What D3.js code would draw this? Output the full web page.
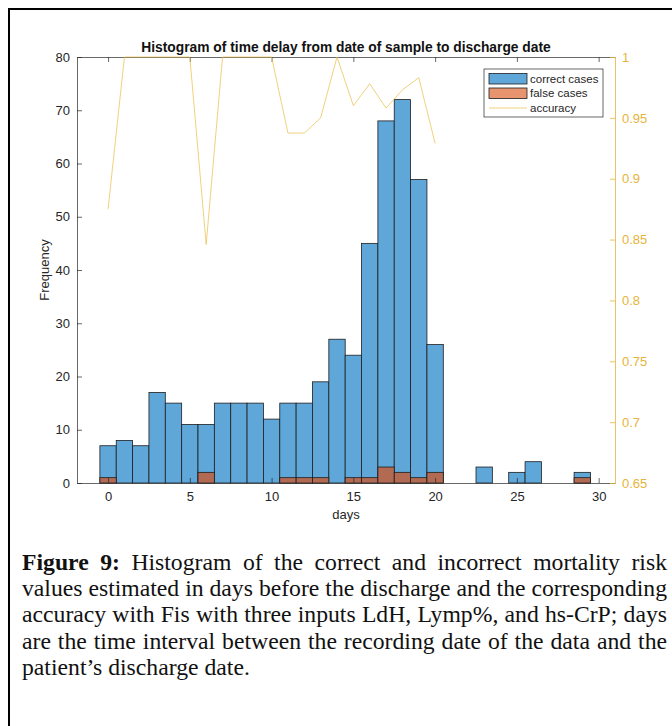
<!DOCTYPE html>
<html>
<head>
<meta charset="utf-8">
<script src="https://cdn.jsdelivr.net/npm/d3@7"></script>
<style>
  html, body { margin: 0; padding: 0; background: #fff; }
  svg { display: block; }
</style>
</head>
<body>
<svg id="chart" width="672" height="726"></svg>
<script>
// ---- data ----
const days = [0,1,2,3,4,5,6,7,8,9,10,11,12,13,14,15,16,17,18,19,20,23,25,26,29];
const correctCases = [7,8,7,17,15,11,11,15,15,15,12,15,15,19,27,24,45,68,72,57,26,3,2,4,2];
const falseCases   = [1,0,0,0,0,0,2,0,0,0,0,1,1,1,0,1,1,3,2,1,2,0,0,0,1];
const accuracyDays = [0,1,2,3,4,5,6,7,8,9,10,11,12,13,14,15,16,17,18,19,20];
const accuracy = [0.875,1,1,1,1,1,0.846,1,1,1,1,0.9375,0.9375,0.95,1,0.96,0.978,0.958,0.973,0.983,0.929];
const xTicks = [0,5,10,15,20,25,30];
const yTicks = [0,10,20,30,40,50,60,70,80];
const y2Ticks = [0.65,0.7,0.75,0.8,0.85,0.9,0.95,1];
const legendLabels = ["correct cases","false cases","accuracy"];
const titleText = "Histogram of time delay from date of sample to discharge date";
const xLabel = "days";
const yLabel = "Frequency";
const captionLines = [
  ["Figure","9:","Histogram","of","the","correct","and","incorrect","mortality","risk"],
  ["values","estimated","in","days","before","the","discharge","and","the","corresponding"],
  ["accuracy","with","Fis","with","three","inputs","LdH,","Lymp%,","and","hs-CrP;","days"],
  ["are","the","time","interval","between","the","recording","date","of","the","data","and","the"],
  ["patient\u2019s","discharge","date."]
];

// ---- layout ----
const svg = d3.select("#chart");
const L = 77, R = 615, T = 57, B = 483;
const axisCol = "#262626";
const yelCol = "#E5B53A";
const lineCol = "#E8BE45";
const blueFill = "#5fa6d9";
const redOverFill = "#b26b52";
const redLegendFill = "#e8946f";
const sans = "'Liberation Sans', Arial, Helvetica, sans-serif";

// outer frame
svg.append("rect").attr("x", 9).attr("y", 9).attr("width", 720).attr("height", 800)
  .attr("fill", "none").attr("stroke", "#000").attr("stroke-width", 2);

const x = d3.scaleLinear().domain([-1.9, 31]).range([L, R]);
const y = d3.scaleLinear().domain([0, 80]).range([B, T]);
const y2 = d3.scaleLinear().domain([0.65, 1]).range([B, T]);

// bars
const bars = days.map((d, i) => ({ d, c: correctCases[i], f: falseCases[i] }));
svg.append("g").selectAll("rect").data(bars).join("rect")
  .attr("x", b => x(b.d - 0.5)).attr("width", b => x(b.d + 0.5) - x(b.d - 0.5))
  .attr("y", b => y(b.c)).attr("height", b => y(0) - y(b.c))
  .attr("fill", blueFill).attr("stroke", "#1e1e1e").attr("stroke-width", 0.8);
svg.append("g").selectAll("rect").data(bars.filter(b => b.f > 0)).join("rect")
  .attr("x", b => x(b.d - 0.5)).attr("width", b => x(b.d + 0.5) - x(b.d - 0.5))
  .attr("y", b => y(b.f)).attr("height", b => y(0) - y(b.f))
  .attr("fill", redOverFill).attr("stroke", "#1e1e1e").attr("stroke-width", 0.8);

// axes (inward ticks)
const tickSize = 5;
const gB = svg.append("g").attr("transform", `translate(0,${B})`)
  .call(d3.axisBottom(x).tickValues(xTicks).tickSizeInner(-tickSize).tickSizeOuter(0).tickPadding(9));
const gT = svg.append("g").attr("transform", `translate(0,${T})`)
  .call(d3.axisTop(x).tickValues(xTicks).tickSizeInner(-tickSize).tickSizeOuter(0).tickFormat(""));
const gL = svg.append("g").attr("transform", `translate(${L},0)`)
  .call(d3.axisLeft(y).tickValues(yTicks).tickSizeInner(-tickSize).tickSizeOuter(0).tickPadding(7));
const gR = svg.append("g").attr("transform", `translate(${R},0)`)
  .call(d3.axisRight(y2).tickValues(y2Ticks).tickSizeInner(-tickSize).tickSizeOuter(0).tickPadding(7)
    .tickFormat(d3.format("~g")));
[gB, gT, gL].forEach(g => {
  g.selectAll("path, line").attr("stroke", axisCol).attr("stroke-width", 0.7);
  g.selectAll("text").attr("fill", axisCol).style("font-family", sans).style("font-size", "13px");
});
gR.selectAll("path, line").attr("stroke", yelCol).attr("stroke-width", 0.8);
gR.selectAll("text").attr("fill", yelCol).style("font-family", sans).style("font-size", "13px");

// accuracy line
svg.append("path")
  .datum(accuracyDays.map((d, i) => [d, accuracy[i]]))
  .attr("fill", "none").attr("stroke", lineCol).attr("stroke-width", 1).attr("stroke-opacity", 0.7)
  .attr("d", d3.line().x(p => x(p[0])).y(p => y2(p[1])));

// title & labels
svg.append("text").attr("x", (L + R) / 2).attr("y", 51.5).attr("text-anchor", "middle")
  .style("font-family", sans).style("font-size", "13.8px").style("font-weight", "bold")
  .attr("fill", "#111").text(titleText);
svg.append("text").attr("x", (L + R) / 2).attr("y", 519).attr("text-anchor", "middle")
  .style("font-family", sans).style("font-size", "13px").attr("fill", axisCol).text(xLabel);
svg.append("text").attr("transform", `translate(49,${(T + B) / 2}) rotate(-90)`).attr("text-anchor", "middle")
  .style("font-family", sans).style("font-size", "13px").attr("fill", axisCol).text(yLabel);

// legend
const lg = svg.append("g");
lg.append("rect").attr("x", 484).attr("y", 69).attr("width", 119).attr("height", 48)
  .attr("fill", "#fff").attr("stroke", axisCol).attr("stroke-width", 0.7);
const swX = 489, swW = 38;
lg.append("rect").attr("x", swX).attr("y", 73.5).attr("width", swW).attr("height", 10.5)
  .attr("fill", blueFill).attr("stroke", "#1e1e1e").attr("stroke-width", 0.8);
lg.append("rect").attr("x", swX).attr("y", 88).attr("width", swW).attr("height", 10.5)
  .attr("fill", redLegendFill).attr("stroke", "#1e1e1e").attr("stroke-width", 0.8);
lg.append("line").attr("x1", swX).attr("x2", swX + swW).attr("y1", 108).attr("y2", 108)
  .attr("stroke", lineCol).attr("stroke-width", 1).attr("stroke-opacity", 0.7);
lg.selectAll("text.lab").data(legendLabels).join("text").attr("class", "lab")
  .attr("x", 530).attr("y", (d, i) => 83 + i * 14.3)
  .style("font-family", sans).style("font-size", "11.5px").attr("fill", axisCol).text(d => d);

// caption (justified)
const serif = "'Liberation Serif', 'Times New Roman', serif";
const capL = 22, capR = 667, base0 = 569.5, lineH = 26.4;
let fs = 26;
const cap = svg.append("g");
function measure(word, bold, size) {
  const t = cap.append("text").style("font-family", serif).style("font-size", size + "px")
    .style("font-weight", bold ? "bold" : "normal").text(word);
  const w = t.node().getComputedTextLength(); t.remove(); return w;
}
let maxNat = 0;
captionLines.slice(0, 4).forEach((ln, li) => {
  const sp = measure("a b", false, fs) - measure("ab", false, fs);
  const w = ln.reduce((s, wd, wi) => s + measure(wd, li === 0 && wi < 2, fs), 0) + sp * (ln.length - 1);
  maxNat = Math.max(maxNat, w);
});
if (maxNat > capR - capL) fs = fs * (capR - capL) / maxNat;
captionLines.forEach((ln, li) => {
  const yb = base0 + li * lineH;
  const ws = ln.map((wd, wi) => measure(wd, li === 0 && wi < 2, fs));
  const total = ws.reduce((a, b) => a + b, 0);
  const justify = li < captionLines.length - 1;
  const gap = justify ? (capR - capL - total) / (ln.length - 1) : (measure("a b", false, fs) - measure("ab", false, fs));
  let cx = capL;
  ln.forEach((wd, wi) => {
    cap.append("text").attr("x", cx).attr("y", yb)
      .style("font-family", serif).style("font-size", fs + "px")
      .style("font-weight", li === 0 && wi < 2 ? "bold" : "normal")
      .attr("fill", "#111").text(wd);
    cx += ws[wi] + gap;
  });
});
</script>
</body>
</html>
